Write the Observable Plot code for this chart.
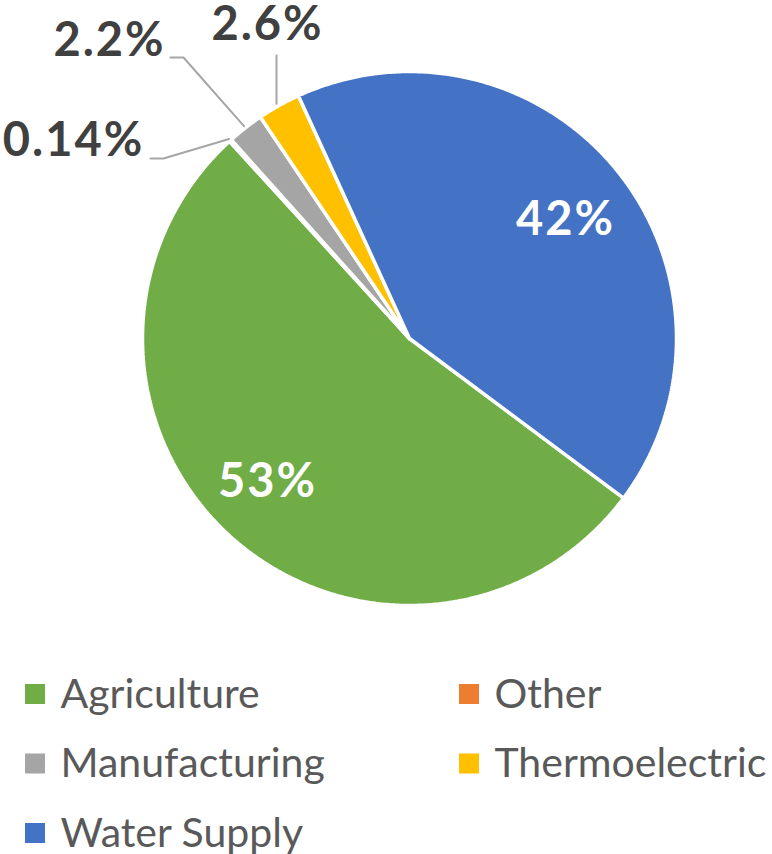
<!DOCTYPE html>
<html>
<head>
<meta charset="utf-8">
<script src="https://cdn.jsdelivr.net/npm/d3@7"></script>
<script src="https://cdn.jsdelivr.net/npm/@observablehq/plot@0.6"></script>
<style>
  html, body { margin: 0; padding: 0; background: #fff; }
  #chart svg { display: block; }
  .lbl text { letter-spacing: 2px; }
</style>
</head>
<body>
<div id="chart"></div>
<script>
// ---- data ----
const categories = ["Agriculture", "Other", "Manufacturing", "Thermoelectric", "Water Supply"];
const values = [53, 0.14, 2.2, 2.6, 42];
const labels = ["53%", "0.14%", "2.2%", "2.6%", "42%"];
const colors = ["#70ad47", "#ed7d31", "#a5a5a5", "#ffc000", "#4472c4"];
// legend order (row-wise, two columns)
const legendOrder = ["Agriculture", "Other", "Manufacturing", "Thermoelectric", "Water Supply"];

// ---- layout ----
const W = 772, H = 854;
const cx = 409, cy = 338, R = 267;
const startDeg = 126.7;

const pie = d3.pie().sort(null).value(d => d.value)
  .startAngle(startDeg * Math.PI / 180)
  .endAngle(startDeg * Math.PI / 180 + 2 * Math.PI);
const rows = categories.map((c, i) => ({name: c, value: values[i], label: labels[i]}));
const arcs = pie(rows);

const px = (a, r) => cx + r * Math.sin(a);
const py = (a, r) => cy - r * Math.cos(a);

// slice polygons
const slicePts = [];
for (const a of arcs) {
  const n = Math.max(2, Math.ceil((a.endAngle - a.startAngle) / (Math.PI / 360)));
  slicePts.push({name: a.data.name, x: cx, y: cy});
  for (let k = 0; k <= n; k++) {
    const t = a.startAngle + (a.endAngle - a.startAngle) * k / n;
    slicePts.push({name: a.data.name, x: px(t, R), y: py(t, R)});
  }
  slicePts.push({name: a.data.name, x: cx, y: cy});
}

// data labels
const inside = {"Agriculture": [267, 481], "Water Supply": [565, 219]};
const outside = {
  "Other": {pos: [73, 140], elbow: [[150, 158], [163, 158]]},
  "Manufacturing": {pos: [109, 40], elbow: [[170, 57], [183, 57]]},
  "Thermoelectric": {pos: [267, 24], elbow: [[276, 55]]}
};
const insideLabels = arcs.filter(a => inside[a.data.name]).map(a => ({
  text: a.data.label, x: inside[a.data.name][0], y: inside[a.data.name][1]
}));
const outsideLabels = arcs.filter(a => outside[a.data.name]).map(a => ({
  text: a.data.label, x: outside[a.data.name].pos[0], y: outside[a.data.name].pos[1]
}));
const leaders = [];
for (const a of arcs) {
  const o = outside[a.data.name];
  if (!o) continue;
  const mid = (a.startAngle + a.endAngle) / 2;
  o.elbow.forEach(p => leaders.push({name: a.data.name, x: p[0], y: p[1]}));
  const last = o.elbow[o.elbow.length - 1];
  if (o.elbow.length === 1) {
    leaders.push({name: a.data.name, x: last[0], y: py(mid, R + 2)});
  } else {
    leaders.push({name: a.data.name, x: px(mid, R + 2), y: py(mid, R + 2)});
  }
}

// legend
const legend = legendOrder.map((name, i) => {
  const col = i % 2, row = Math.floor(i / 2);
  const sx = col === 0 ? 25 : 459;
  const yc = 694 + row * 69.5;
  return {name, x1: sx, x2: sx + 20, y1: yc - 10, y2: yc + 10, tx: sx + 35, ty: yc};
});

const chart = Plot.plot({
  width: W,
  height: H,
  margin: 0,
  x: {domain: [0, W], range: [0, W], axis: null},
  y: {domain: [0, H], range: [0, H], axis: null},
  color: {domain: categories, range: colors},
  style: {fontFamily: "Lato, sans-serif", background: "#fff"},
  marks: [
    Plot.line(slicePts, {x: "x", y: "y", z: "name", fill: "name", stroke: "white", strokeWidth: 3.5, strokeLinejoin: "miter", curve: "linear"}),
    Plot.line(leaders, {x: "x", y: "y", z: "name", stroke: "#a6a6a6", strokeWidth: 2}),
    Plot.text(outsideLabels, {x: "x", y: "y", text: "text", fill: "#404040", fontSize: 47, fontWeight: "bold", textAnchor: "middle", lineAnchor: "middle", className: "lbl"}),
    Plot.text(insideLabels, {x: "x", y: "y", text: "text", fill: "white", fontSize: 47, fontWeight: "bold", textAnchor: "middle", lineAnchor: "middle", className: "lbl"}),
    Plot.rect(legend, {x1: "x1", x2: "x2", y1: "y1", y2: "y2", fill: "name"}),
    Plot.text(legend, {x: "tx", y: "ty", text: "name", fill: "#595959", fontSize: 41, textAnchor: "start", lineAnchor: "middle"})
  ]
});
document.getElementById("chart").appendChild(chart);
</script>
</body>
</html>
